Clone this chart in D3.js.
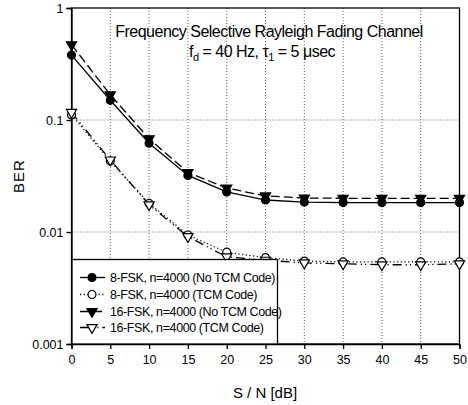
<!DOCTYPE html>
<html><head><meta charset="utf-8">
<script src="https://cdn.jsdelivr.net/npm/d3@7"></script>
<style>
body{margin:0;background:#fff;}
text{font-family:"Liberation Sans Narrow","Liberation Sans",Arial,sans-serif;fill:#000;}
</style></head>
<body><svg id="c" width="468" height="405"></svg>
<script>
const snr = [0,5,10,15,20,25,30,35,40,45,50];
const fsk8NoTcm  = [0.38,0.15,0.062,0.032,0.0228,0.0193,0.0185,0.0183,0.0183,0.0183,0.0183];
const fsk8Tcm    = [0.111,0.043,0.018,0.0094,0.0066,0.0059,0.0055,0.0054,0.0054,0.0054,0.0054];
const fsk16NoTcm = [0.47,0.168,0.068,0.034,0.0247,0.021,0.0201,0.02,0.02,0.02,0.02];
const fsk16Tcm   = [0.117,0.044,0.0175,0.0091,0.006,0.0056,0.0053,0.0052,0.0051,0.0051,0.0052];
const xTicks = [0,5,10,15,20,25,30,35,40,45,50];
const yTicks = [1,0.1,0.01,0.001];
const yTickLabels = ["1","0.1","0.01","0.001"];
const legendLabels = ["8-FSK, n=4000 (No TCM Code)","8-FSK, n=4000 (TCM Code)","16-FSK, n=4000 (No TCM Code)","16-FSK, n=4000 (TCM Code)"];

const svg = d3.select("#c");
const L=71.5, R=459.5, T=8, B=344;
const x = d3.scaleLinear().domain([0,50]).range([L,R]);
const y = d3.scaleLog().domain([0.001,1]).range([B,T]);

// grid
const g = svg.append("g");
g.selectAll(".vg").data(xTicks.slice(1,-1)).enter().append("line")
 .attr("x1",d=>x(d)).attr("x2",d=>x(d)).attr("y1",T).attr("y2",B)
 .attr("stroke","#666").attr("stroke-width",1).attr("stroke-dasharray","1,2");
g.selectAll(".hg").data(yTicks.slice(1,-1)).enter().append("line")
 .attr("x1",L).attr("x2",R).attr("y1",d=>y(d)).attr("y2",d=>y(d))
 .attr("stroke","#666").attr("stroke-width",1).attr("stroke-dasharray","1,2");

// frame
svg.append("rect").attr("x",L).attr("y",T).attr("width",R-L).attr("height",B-T)
 .attr("fill","none").attr("stroke","#000").attr("stroke-width",1.3);

// axes
const xAxis = svg.append("g").attr("transform",`translate(0,${B})`)
 .call(d3.axisBottom(x).tickValues(xTicks).tickSize(5).tickPadding(6).tickFormat(d3.format("d")));
const yAxis = svg.append("g").attr("transform",`translate(${L},0)`)
 .call(d3.axisLeft(y).tickValues(yTicks).tickSize(5).tickPadding(3).tickFormat((d,i)=>yTickLabels[i]));
[xAxis,yAxis].forEach(a=>{
  a.select(".domain").attr("stroke","#000").attr("stroke-width",1.3);
  a.selectAll(".tick line").attr("stroke","#000").attr("stroke-width",1.3);
  a.selectAll("text").attr("font-size",12.5).attr("fill","#000").style("font-family",'"Liberation Sans Narrow","Liberation Sans",Arial,sans-serif');
});

// series
const series = [
 {v:fsk8NoTcm, dash:null, sym:"circle", fill:"#000"},
 {v:fsk8Tcm, dash:"1.2,2.5", sym:"circle", fill:"#fff"},
 {v:fsk16NoTcm, dash:"9,4", sym:"tri", fill:"#000"},
 {v:fsk16Tcm, dash:"9,4,1.2,3,1.2,4", sym:"tri", fill:"#fff"}
];
const line = d3.line().x((d,i)=>x(snr[i])).y(d=>y(d));
function marker(sel, s){
  if(s.sym==="circle"){
    sel.append("circle").attr("r",4).attr("fill",s.fill).attr("stroke","#000").attr("stroke-width",1.2);
  } else {
    sel.append("path").attr("d",d3.symbol().type(d3.symbolTriangle).size(45)).attr("transform","rotate(180)")
      .attr("fill",s.fill).attr("stroke","#000").attr("stroke-width",1.2);
  }
}
series.forEach(s=>{
  svg.append("path").datum(s.v).attr("d",line).attr("fill","none").attr("stroke","#000")
   .attr("stroke-width",1.3).attr("stroke-dasharray",s.dash);
});
series.forEach(s=>{
  s.v.forEach((d,i)=>{
    const m = svg.append("g").attr("transform",`translate(${x(snr[i])},${y(d)})`);
    marker(m,s);
  });
});

// legend
const lg = svg.append("g");
lg.append("rect").attr("x",72).attr("y",259.5).attr("width",205.5).attr("height",B-259.5)
 .attr("fill","#fff").attr("stroke","#000").attr("stroke-width",1.3);
const rowsY = [277.5,294.5,311.5,327.5];
series.forEach((s,i)=>{
  lg.append("line").attr("x1",80).attr("x2",105).attr("y1",rowsY[i]).attr("y2",rowsY[i])
    .attr("stroke","#000").attr("stroke-width",1.3).attr("stroke-dasharray",s.dash);
  const m = lg.append("g").attr("transform",`translate(92,${rowsY[i]})`);
  marker(m,s);
  lg.append("text").attr("x",110).attr("y",rowsY[i]+4.5).attr("font-size",12.5)
    .attr("letter-spacing","-0.4").text(legendLabels[i]);
});

// title
const t = svg.append("text").attr("x",269).attr("y",37).attr("text-anchor","middle").attr("font-size",16)
 .attr("letter-spacing","-0.5").text("Frequency Selective Rayleigh Fading Channel");
const t2 = svg.append("text").attr("x",262).attr("y",57).attr("text-anchor","middle").attr("font-size",16).attr("letter-spacing","-0.5");
t2.append("tspan").text("f");
t2.append("tspan").attr("font-size",11).attr("dy",4).text("d");
t2.append("tspan").attr("dy",-4).text(" = 40 Hz, τ");
t2.append("tspan").attr("font-size",11).attr("dy",4).text("1");
t2.append("tspan").attr("dy",-4).text(" = 5 μsec");

// axis labels
svg.append("text").attr("x",265).attr("y",398).attr("text-anchor","middle").attr("font-size",15).text("S / N [dB]");
svg.append("text").attr("transform","translate(24,176) rotate(-90)").attr("text-anchor","middle")
 .attr("font-size",15).attr("letter-spacing","1").text("BER");
</script></body></html>
